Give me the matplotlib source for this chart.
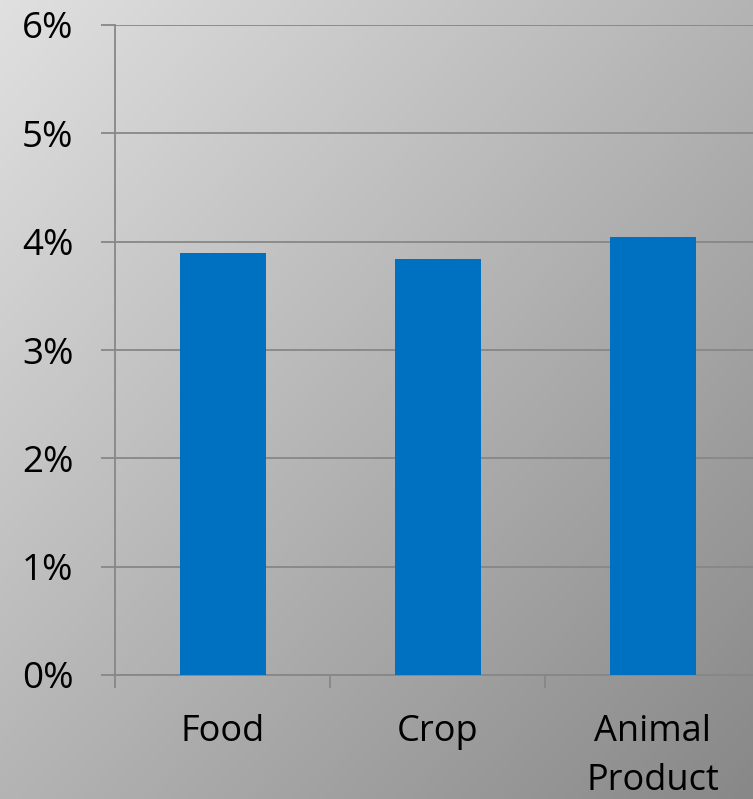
import numpy as np
import matplotlib.pyplot as plt
from matplotlib.colors import LinearSegmentedColormap
from matplotlib.ticker import PercentFormatter

categories = ["Food", "Crop", "Animal\nProduct"]
values = [3.90, 3.84, 4.04]
y_ticks = [0, 1, 2, 3, 4, 5, 6]

W, H = 753, 799
fig = plt.figure(figsize=(W / 100, H / 100), dpi=100)
plt.rcParams['font.family'] = ['Open Sans', 'DejaVu Sans']

# diagonal grey gradient background
bg = fig.add_axes([0, 0, 1, 1], zorder=-10)
xx, yy = np.meshgrid(np.linspace(0, 1, 300), np.linspace(0, 1, 300))
t = (xx + yy) / 2
cmap = LinearSegmentedColormap.from_list("bg", ["#e0e0e0", "#b4b4b4", "#888888"])
bg.imshow(t, cmap=cmap, vmin=0, vmax=1, aspect="auto", extent=[0, 1, 0, 1], origin="upper")
bg.axis("off")

left, bottom = 115 / W, (H - 675) / H
ax = fig.add_axes([left, bottom, 645 / W, 650 / H])
ax.patch.set_alpha(0)
x = np.arange(len(categories))
ax.bar(x, values, width=0.4, color="#0070C0", zorder=3)
ax.set_xlim(-0.5, 2.5)
ax.set_ylim(0, 6)
ax.set_yticks(y_ticks)
ax.yaxis.set_major_formatter(PercentFormatter(decimals=0))
ax.set_xticks(x)
ax.set_xticklabels(categories, linespacing=1.5)
ax.set_xticks([-0.5, 0.5, 1.5], minor=True)
ax.grid(axis="y", color="#878787", linewidth=1.3, zorder=0)
for s in ["top", "right"]:
    ax.spines[s].set_visible(False)
for s in ["left", "bottom"]:
    ax.spines[s].set_color("#878787")
    ax.spines[s].set_linewidth(1.3)
ax.tick_params(axis="x", which="major", length=0, pad=28, labelsize=26)
ax.tick_params(axis="x", which="minor", length=9, width=1.3, color="#878787")
ax.tick_params(axis="y", length=10, width=1.3, color="#878787", pad=20, labelsize=26.5)
for lbl in ax.get_xticklabels():
    lbl.set_verticalalignment("top")

fig.savefig("out.png", dpi=100)
